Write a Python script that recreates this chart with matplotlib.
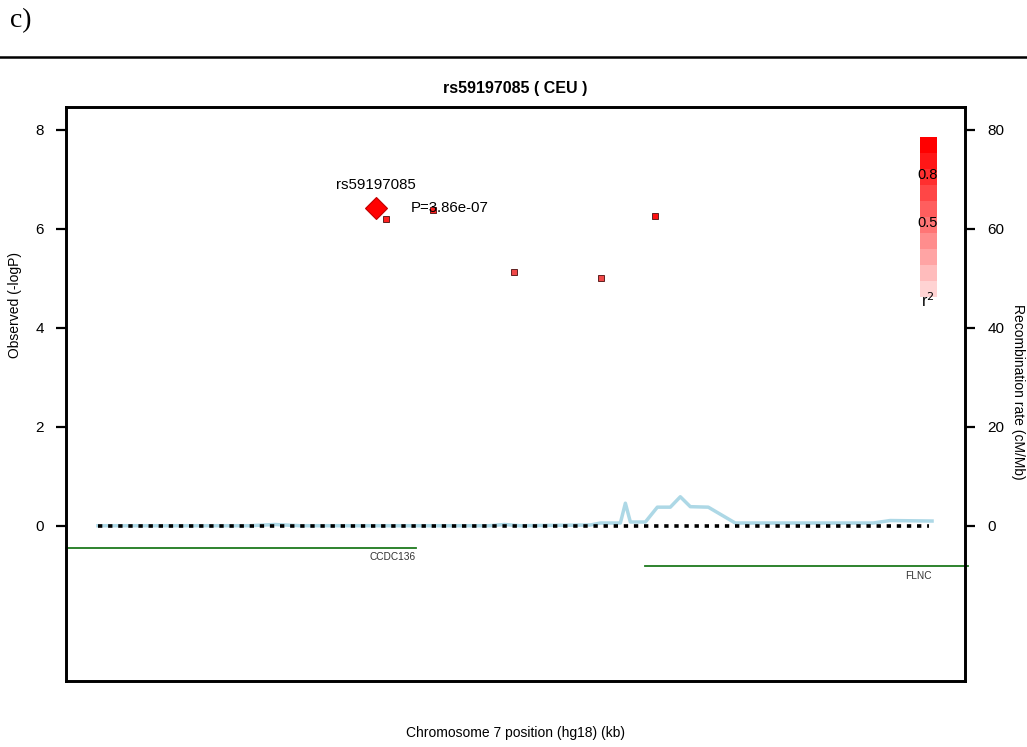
import matplotlib
matplotlib.use("Agg")
import matplotlib.pyplot as plt
from matplotlib.patches import Rectangle
from matplotlib.lines import Line2D

plt.rcParams['font.family'] = ['Liberation Sans', 'DejaVu Sans']

# ---- data ----
lead_snp = "rs59197085"
lead_pos = 128201.0
lead_logp = 6.413
lead_p_text = "P=3.86e-07"

snp_pos = [128202.0, 128206.7, 128214.8, 128223.6, 128229.0]
snp_logp = [6.20, 6.38, 5.13, 5.01, 6.26]
snp_colors = ['#ff2020', '#ff2020', '#f04848', '#f04848', '#ff1010']

recomb_pos = [128173.2, 128188.4, 128190.9, 128193.4, 128212.4, 128213.9, 128215.4,
              128222.5, 128223.5, 128225.5, 128226.0, 128226.5, 128228.0, 128229.2,
              128230.5, 128231.5, 128232.5, 128234.3, 128237.0, 128250.8, 128252.5,
              128256.7]
recomb_rate = [0.05, 0.05, 0.3, 0.05, 0.05, 0.3, 0.05,
               0.2, 0.6, 0.6, 4.6, 0.8, 0.8, 3.8,
               3.8, 5.9, 3.9, 3.8, 0.6, 0.6, 1.1,
               1.0]

genes = ["CCDC136", "FLNC"]
gene_start = [128170.0, 128228.0]
gene_end = [128205.0, 128260.3]
gene_y = [-0.44, -0.81]
gene_label_x = [128202.7, 128255.3]
gene_label_y = [-0.63, -1.01]

baseline_range = [128173.2, 128256.4]

left_ticks = [0, 2, 4, 6, 8]
right_ticks = [0, 20, 40, 60, 80]
legend_labels = ["0.8", "0.5"]

# ---- figure ----
W, H = 1027, 747
fig = plt.figure(figsize=(W / 100, H / 100), dpi=100)

def fx(px):
    return px / W

def fy(py):
    return 1 - py / H

ax = fig.add_axes([fx(66), fy(681), fx(965) - fx(66), fy(107) - fy(681)])
ax.set_xlim(128170, 128260)
ax.set_ylim(-3.13, 8.46)
ax2 = ax.twinx()
ax2.set_ylim(-31.3, 84.6)

for a in (ax, ax2):
    for s in a.spines.values():
        s.set_linewidth(1.9)
    a.set_xticks([])
ax.set_yticks(left_ticks)
ax.set_yticklabels([str(t) for t in left_ticks])
ax2.set_yticks(right_ticks)
ax2.set_yticklabels([str(t) for t in right_ticks])
ax.tick_params(axis='y', length=7, width=1.6, labelsize=11, pad=9)
ax2.tick_params(axis='y', length=7, width=1.6, labelsize=11, pad=9)

# recombination line and baseline
ax2.plot(recomb_pos, recomb_rate, color='#add8e6', lw=2.5, zorder=2)
ax2.plot(baseline_range, [0, 0], color='black', lw=2.6,
         linestyle=(0, (1.2, 1.6)), zorder=3)

# genes
for g, s, e, y, lx, ly in zip(genes, gene_start, gene_end, gene_y, gene_label_x, gene_label_y):
    ax2.plot([s, e], [y * 10, y * 10], color='#1e7a1e', lw=1.3, clip_on=False, zorder=2)
    ax2.text(lx, ly * 10, g, fontsize=7.3, ha='center', va='center', color='#333333')

# SNPs
for x, y, c in zip(snp_pos, snp_logp, snp_colors):
    ax.plot(x, y, marker='s', ms=5, color=c, mec='#602020', mew=0.7, zorder=4)
ax.plot(lead_pos, lead_logp, marker='D', ms=11, color='#ff0000', mec='#c00000', mew=0.8, zorder=5)
ax.text(lead_pos, 6.89, lead_snp, fontsize=10.8, ha='center', va='center')
ax.text(128204.5, lead_logp, lead_p_text, fontsize=10.8, ha='left', va='center', zorder=6)
ax.set_zorder(ax2.get_zorder() + 1)
ax.patch.set_visible(False)

# labels
fig.text(fx(515), fy(88), "rs59197085 ( CEU )", fontsize=11.5, fontweight='bold',
         ha='center', va='center')
fig.text(fx(515), fy(733), "Chromosome 7 position (hg18) (kb)", fontsize=10,
         ha='center', va='center')
fig.text(fx(15), fy(305), "Observed (-logP)", fontsize=10, rotation=90,
         ha='center', va='center')
fig.text(fx(1018), fy(392), "Recombination rate (cM/Mb)", fontsize=10, rotation=270,
         ha='center', va='center')

# panel label and rule
fig.text(fx(10), fy(21), "c)", fontsize=20, family='Liberation Serif',
         ha='left', va='center')
fig.add_artist(Line2D([0, 1], [fy(57), fy(57)], color='black', lw=1.8,
                      transform=fig.transFigure))

# r^2 legend
nblk = 10
top, bot = 137, 297
bh = (bot - top) / nblk
for i in range(nblk):
    frac = (i + 1) / nblk
    col = (1.0, 0.92 * (1 - frac), 0.92 * (1 - frac))
    y0 = bot - (i + 1) * bh
    fig.add_artist(Rectangle((fx(920), fy(y0 + bh)), fx(937) - fx(920), bh / H,
                             facecolor=col, edgecolor='none', transform=fig.transFigure))
fig.text(fx(928), fy(175), legend_labels[0], fontsize=10.5, ha='center', va='center')
fig.text(fx(928), fy(223), legend_labels[1], fontsize=10.5, ha='center', va='center')
fig.text(fx(928), fy(301), "r$^2$", fontsize=11.5, ha='center', va='center')

fig.savefig("out.png", dpi=100)
